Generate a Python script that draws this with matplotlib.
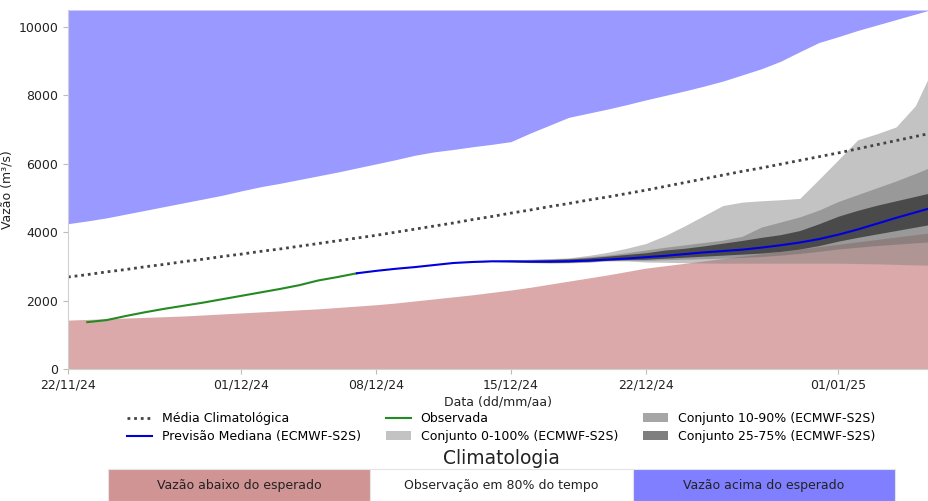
import matplotlib
matplotlib.use("Agg")
import matplotlib.pyplot as plt
import matplotlib.dates as mdates
from matplotlib.patches import Patch, Rectangle
from matplotlib.lines import Line2D
import pandas as pd

# ---------------- data ----------------
clim_dates = pd.date_range("2024-11-22", "2025-01-06", freq="D")  # 46 days
clim_low = [1430, 1450, 1470, 1490, 1510, 1530, 1550, 1580, 1610, 1640,
            1670, 1700, 1730, 1760, 1800, 1840, 1880, 1930, 1990, 2050,
            2110, 2170, 2240, 2310, 2390, 2480, 2570, 2660, 2750, 2850,
            2950, 3020, 3090, 3160, 3230, 3300, 3370, 3440, 3510, 3580,
            3650, 3720, 3790, 3860, 3930, 4000]
clim_high = [4250, 4330, 4420, 4530, 4640, 4750, 4860, 4970, 5080, 5210,
             5330, 5430, 5540, 5650, 5760, 5880, 6000, 6120, 6250, 6350,
             6420, 6500, 6570, 6650, 6900, 7130, 7360, 7480, 7600, 7730,
             7870, 8000, 8130, 8270, 8420, 8600, 8780, 9000, 9280, 9550,
             9720, 9900, 10060, 10220, 10380, 10540]
clim_mean = [2690, 2760, 2840, 2910, 2990, 3060, 3140, 3210, 3290, 3360,
             3440, 3510, 3590, 3670, 3750, 3830, 3910, 4000, 4090, 4180,
             4270, 4370, 4460, 4560, 4650, 4750, 4840, 4940, 5030, 5130,
             5230, 5340, 5450, 5560, 5670, 5780, 5880, 5990, 6100, 6210,
             6320, 6440, 6560, 6680, 6800, 6920]

obs_dates = pd.date_range("2024-11-23", "2024-12-07", freq="D")
observed = [1370, 1430, 1550, 1660, 1760, 1850, 1940, 2040, 2140, 2240,
            2340, 2450, 2590, 2690, 2800]

fc_dates = pd.date_range("2024-12-07", "2025-01-06", freq="D")
median = [2800, 2870, 2930, 2980, 3040, 3100, 3130, 3150, 3150, 3140,
          3140, 3150, 3170, 3200, 3230, 3270, 3310, 3360, 3410, 3450,
          3490, 3550, 3620, 3700, 3800, 3930, 4080, 4250, 4420, 4580, 4740]
p0 = [2800, 2870, 2930, 2980, 3040, 3100, 3130, 3140, 3125, 3110,
      3100, 3105, 3120, 3160, 3160, 3130, 3120, 3110, 3100, 3095,
      3095, 3095, 3095, 3095, 3095, 3095, 3085, 3075, 3060, 3045, 3030]
p100 = [2800, 2870, 2930, 2980, 3040, 3100, 3130, 3170, 3190, 3210,
        3230, 3250, 3320, 3410, 3530, 3670, 3900, 4180, 4480, 4780,
        4880, 4920, 4950, 4990, 5550, 6120, 6700, 6880, 7080, 7700, 8900]
p10 = [2800, 2870, 2930, 2980, 3040, 3100, 3130, 3145, 3130, 3120,
       3110, 3115, 3130, 3170, 3180, 3180, 3195, 3210, 3225, 3240,
       3265, 3290, 3330, 3380, 3440, 3510, 3560, 3610, 3650, 3690, 3730]
p90 = [2800, 2870, 2930, 2980, 3040, 3100, 3130, 3158, 3180, 3200,
       3215, 3235, 3280, 3330, 3400, 3480, 3560, 3630, 3700, 3770,
       3880, 4150, 4300, 4450, 4650, 4900, 5100, 5300, 5500, 5720, 5950]
p25 = [2800, 2870, 2930, 2980, 3040, 3100, 3130, 3148, 3140, 3130,
       3125, 3130, 3150, 3180, 3200, 3210, 3240, 3270, 3300, 3330,
       3360, 3390, 3440, 3510, 3610, 3740, 3850, 3950, 4050, 4150, 4250]
p75 = [2800, 2870, 2930, 2980, 3040, 3100, 3130, 3155, 3165, 3180,
       3200, 3220, 3250, 3300, 3350, 3400, 3480, 3530, 3600, 3680,
       3760, 3850, 3930, 4050, 4250, 4470, 4640, 4790, 4920, 5050, 5180]

xticks = ["2024-11-22", "2024-12-01", "2024-12-08", "2024-12-15",
          "2024-12-22", "2025-01-01"]
yticks = [0, 2000, 4000, 6000, 8000, 10000]

legend_labels = ["Média Climatológica", "Previsão Mediana (ECMWF-S2S)",
                 "Observada", "Conjunto 0-100% (ECMWF-S2S)",
                 "Conjunto 10-90% (ECMWF-S2S)", "Conjunto 25-75% (ECMWF-S2S)"]
box_labels = ["Vazão abaixo do esperado", "Observação em 80% do tempo",
              "Vazão acima do esperado"]

# ---------------- figure ----------------
W, H = 929, 501
YTOP = 10500
fig = plt.figure(figsize=(W / 100, H / 100), dpi=100)
ax = fig.add_axes([68 / W, 1 - 369 / H, 1 - 68 / W, (369 - 10) / H])

ax.fill_between(clim_dates, 0, clim_low, color="brown", alpha=0.4, lw=0)
ax.fill_between(clim_dates, clim_high, YTOP, color="blue", alpha=0.4, lw=0)

ax.fill_between(fc_dates, p0, p100, color=(0.5, 0.5, 0.5), alpha=0.47, lw=0)
ax.fill_between(fc_dates, p10, p90, color=(0.39, 0.39, 0.39), alpha=0.43, lw=0)
ax.fill_between(fc_dates, p25, p75, color=(0.16, 0.16, 0.16), alpha=0.70, lw=0)

ax.plot(clim_dates, clim_mean, color="#444444", lw=2, ls=(0, (1, 1.4)))
ax.plot(obs_dates, observed, color="#228b22", lw=1.5)
ax.plot(fc_dates, median, color="#0000dd", lw=1.5)

ax.set_xlim(pd.Timestamp("2024-11-22"), pd.Timestamp("2025-01-05 17:00"))
ax.set_ylim(0, YTOP)
ax.set_xticks(pd.to_datetime(xticks))
ax.xaxis.set_major_formatter(mdates.DateFormatter("%d/%m/%y"))
ax.set_yticks(yticks)
ax.tick_params(labelsize=9, colors="#bbbbbb", labelcolor="#222222", length=3.5, width=0.8)
for s in ["top", "right"]:
    ax.spines[s].set_visible(False)
for s in ["left", "bottom"]:
    ax.spines[s].set_color("#d0d0d0")
    ax.spines[s].set_linewidth(0.8)

ax.set_xlabel("Data (dd/mm/aa)", fontsize=9, color="#222222", labelpad=3)
ax.set_ylabel("Vazão (m³/s)", fontsize=9, color="#222222")
ax.yaxis.set_label_coords((13 - 68) / (W - 68), 0.5)

handles = [
    Line2D([], [], color="#444444", lw=2, ls=(0, (1, 1.4))),
    Line2D([], [], color="#0000dd", lw=1.5),
    Line2D([], [], color="#228b22", lw=1.5),
    Patch(facecolor="#c3c3c3", lw=0),
    Patch(facecolor="#a6a6a6", lw=0),
    Patch(facecolor="#7f7f7f", lw=0),
]
fig.legend(handles, legend_labels, loc="center", ncol=3, frameon=False,
           fontsize=9, bbox_to_anchor=(501 / W, 1 - 427.5 / H),
           labelspacing=0.4, borderaxespad=0)

fig.text(501 / W, 1 - 459 / H, "Climatologia", fontsize=13.5,
         ha="center", va="center", color="#222222")

bax = fig.add_axes([108 / W, 0, 787 / W, 32 / H])
bax.set_xlim(0, 3)
bax.set_ylim(0, 1)
bax.axis("off")
box_colors = [(165 / 255, 42 / 255, 42 / 255, 0.5), "white", (0, 0, 1, 0.5)]
for i, (lab, c) in enumerate(zip(box_labels, box_colors)):
    bax.add_patch(Rectangle((i, 0), 1, 1, facecolor=c, edgecolor="#e4e4e4",
                            lw=0.8, clip_on=False))
    bax.text(i + 0.5, 0.5, lab, ha="center", va="center", fontsize=9,
             color="#222222")

fig.savefig("out.png", dpi=100)
